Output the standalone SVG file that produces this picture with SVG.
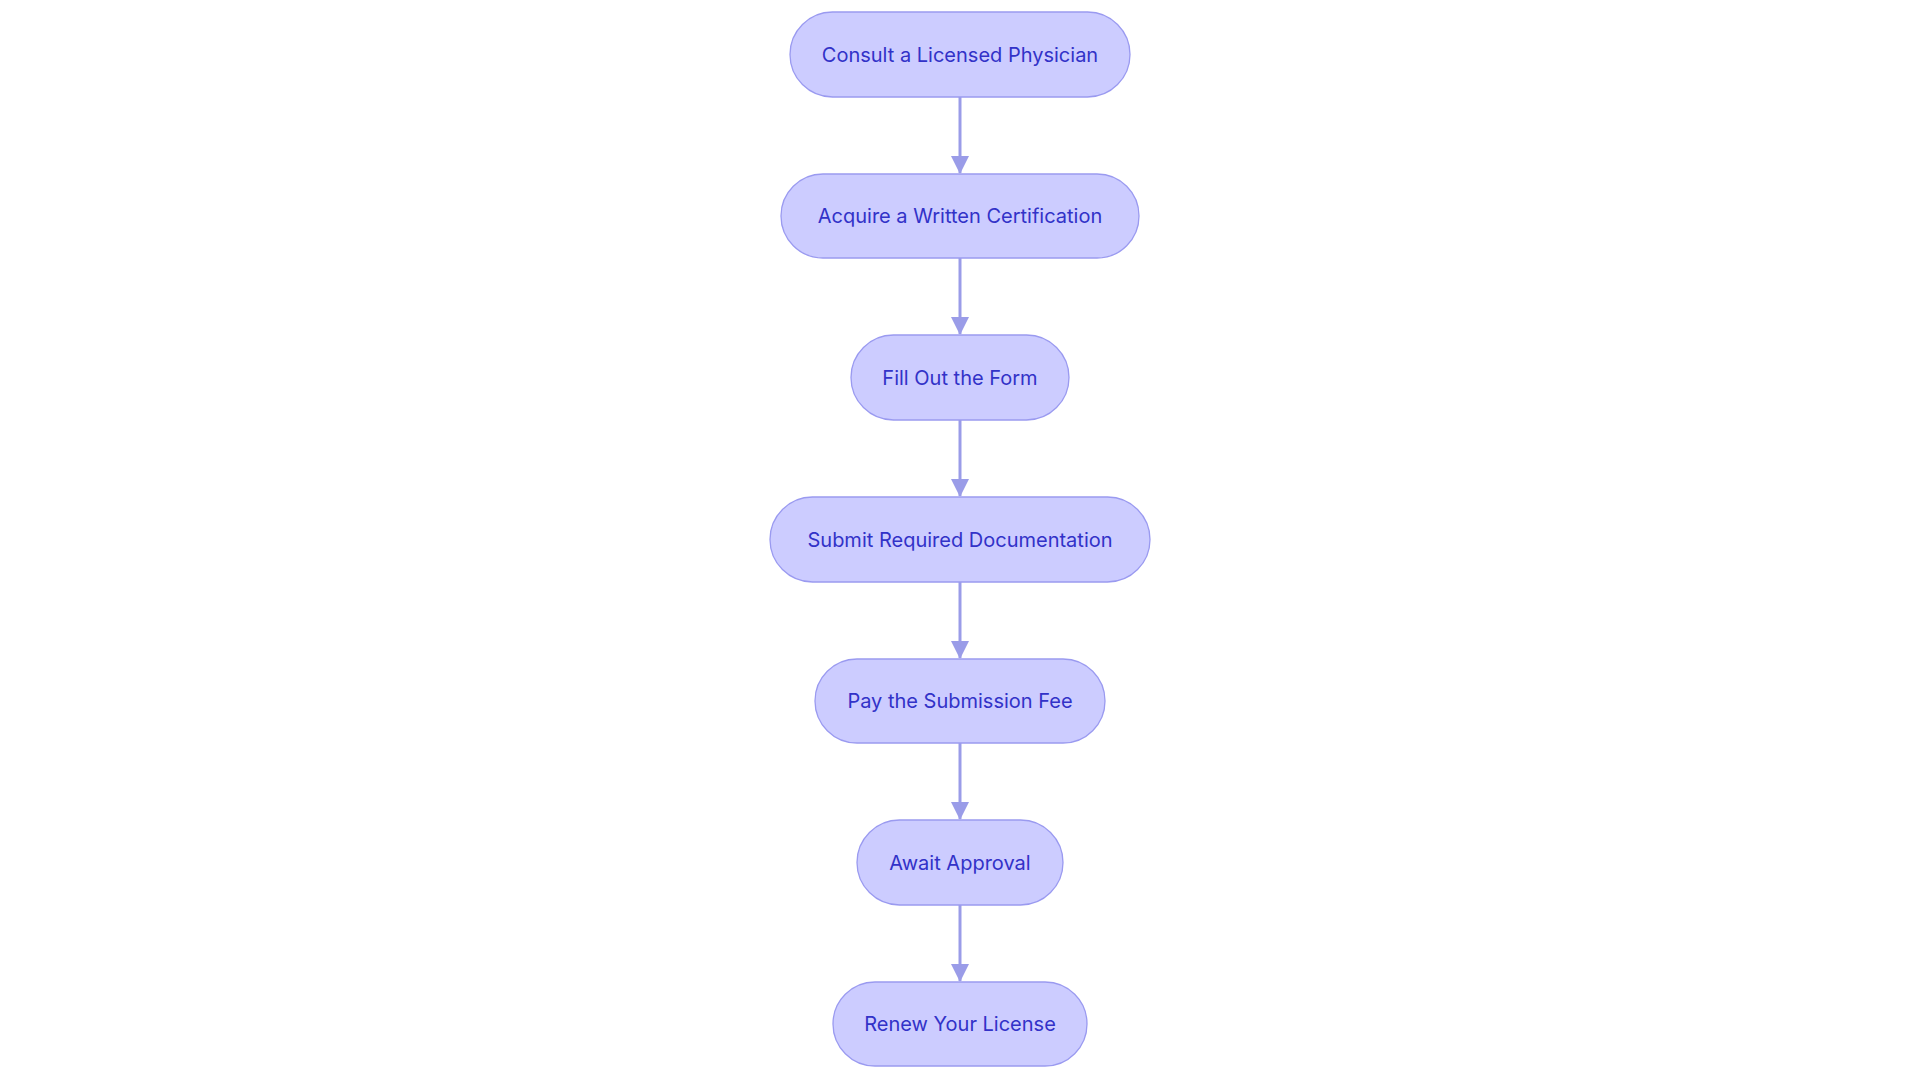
<svg xmlns="http://www.w3.org/2000/svg" width="1920" height="1083" viewBox="0 0 1920 1083">
<style>
.n rect{fill:#ccccff;stroke:#9a9af0;stroke-width:1.3}
.n text{font-family:Inter,"Noto Sans",sans-serif;font-size:20px;fill:#3232c8;text-anchor:middle;dominant-baseline:central}
.e path{stroke:#9a9ce8;stroke-width:3;fill:none;marker-end:url(#a)}
</style>
<defs><marker id="a" markerWidth="18" markerHeight="18" refX="17" refY="9" orient="auto" markerUnits="userSpaceOnUse"><path d="M0,0 L18,9 L0,18 z" fill="#9a9ce8"/></marker></defs>
<rect width="1920" height="1083" fill="#fff"/>
<g class="e">
<path d="M960,97 V173"/><path d="M960,258 V334"/><path d="M960,420 V496"/><path d="M960,582 V658"/><path d="M960,743 V819"/><path d="M960,905 V981"/>
</g>
<g id="n1" class="n"><rect x="790" y="12" width="340" height="85" rx="42.5"/><text x="960" y="54.5">Consult a Licensed Physician</text></g>
<g id="n2" class="n"><rect x="781" y="174" width="358" height="84" rx="42"/><text x="960" y="216">Acquire a Written Certification</text></g>
<g id="n3" class="n"><rect x="851" y="335" width="218" height="85" rx="42.5"/><text x="960" y="377.5">Fill Out the Form</text></g>
<g id="n4" class="n"><rect x="770" y="497" width="380" height="85" rx="42.5"/><text x="960" y="539.5">Submit Required Documentation</text></g>
<g id="n5" class="n"><rect x="815" y="659" width="290" height="84" rx="42"/><text x="960" y="701">Pay the Submission Fee</text></g>
<g id="n6" class="n"><rect x="857" y="820" width="206" height="85" rx="42.5"/><text x="960" y="862.5">Await Approval</text></g>
<g id="n7" class="n"><rect x="833" y="982" width="254" height="84" rx="42"/><text x="960" y="1024">Renew Your License</text></g>
</svg>
